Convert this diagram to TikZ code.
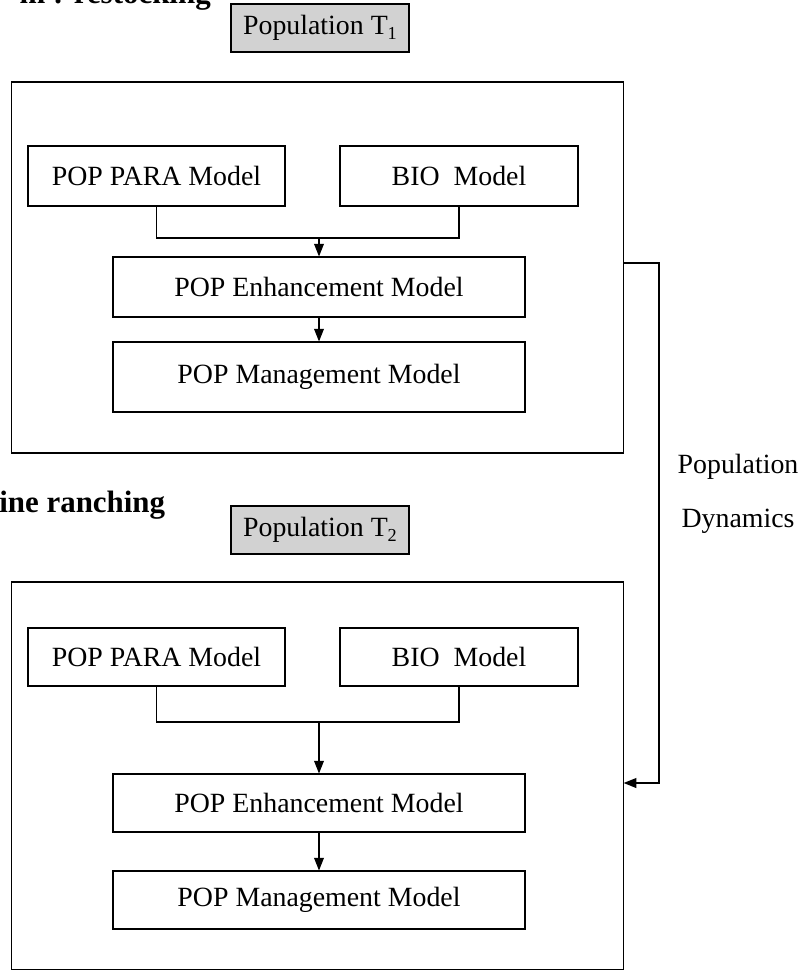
\documentclass[tikz,border=0pt]{standalone}
\usepackage{fontspec}
\setmainfont{Liberation Serif}
\usetikzlibrary{arrows.meta, calc}

\newcommand{\modelfont}{\fontsize{19.8}{24}\selectfont}
\newcommand{\headfont}{\fontsize{22}{26}\selectfont\bfseries}
\newcommand{\popsub}[1]{\raisebox{-0.35ex}{\fontsize{13}{15}\selectfont #1}}

\tikzset{
  modelbox/.style={draw, line width=0.8pt, inner sep=0pt, font=\modelfont},
  popbox/.style={draw, line width=0.8pt, fill=gray!35, inner sep=0pt,
    minimum width=4.45cm, minimum height=1.2cm, font=\modelfont},
  framebox/.style={draw, line width=0.8pt, inner sep=0pt, minimum width=15.275cm},
  heading/.style={inner sep=0pt, font=\headfont},
  flow/.style={line width=0.8pt},
  flowarrow/.style={line width=0.8pt, -{Triangle[length=9pt, width=7pt]}}
}

\begin{document}
\begin{tikzpicture}[x=0.025cm, y=-0.025cm]
\useasboundingbox (0,0) rectangle (804,971);

% Bloco superior
\node[heading, anchor=base east] (head1) at (211,4) {m : restocking};
\node[popbox] (pop1) at (320,28) {Population T\popsub{1}};
\node[framebox, minimum height=9.275cm] (frame1) at (317.5,267.5) {};
\node[modelbox, minimum width=6.425cm, minimum height=1.5cm] (para1) at (156.5,176) {POP PARA Model};
\node[modelbox, minimum width=5.95cm, minimum height=1.5cm] (bio1) at (459,176) {BIO\ \ Model};
\node[modelbox, minimum width=10.3cm, minimum height=1.5cm] (enh1) at (319,287) {POP Enhancement Model};
\node[modelbox, minimum width=10.3cm, minimum height=1.75cm] (mgmt1) at (319,377) {POP Management Model};
\coordinate (join1) at (319,238);
\draw[flow] (para1.south) |- (join1) -| (bio1.south);
\draw[flowarrow] (join1) -- (enh1.north);
\draw[flowarrow] (enh1.south) -- (mgmt1.north);

% Bloco inferior
\node[heading, anchor=west] (head2) at (-1,505) {ine ranching};
\node[popbox] (pop2) at (320,530) {Population T\popsub{2}};
\node[framebox, minimum height=9.675cm] (frame2) at (317.5,775.5) {};
\node[modelbox, minimum width=6.425cm, minimum height=1.45cm] (para2) at (156.5,657) {POP PARA Model};
\node[modelbox, minimum width=5.95cm, minimum height=1.45cm] (bio2) at (459,657) {BIO\ \ Model};
\node[modelbox, minimum width=10.3cm, minimum height=1.45cm] (enh2) at (319,803) {POP Enhancement Model};
\node[modelbox, minimum width=10.3cm, minimum height=1.45cm] (mgmt2) at (319,900) {POP Management Model};
\coordinate (join2) at (319,722);
\draw[flow] (para2.south) |- (join2) -| (bio2.south);
\draw[flowarrow] (join2) -- (enh2.north);
\draw[flowarrow] (enh2.south) -- (mgmt2.north);

% Dinamica populacional
\coordinate (dyn1) at (659,263);
\coordinate (dyn2) at (659,783);
\draw[flowarrow] (frame1.east |- dyn1) -- (dyn1) |- (frame2.east |- dyn2);
\node[font=\modelfont, align=center, inner sep=0pt] (dyn) at (738,494)
  {Population\\[14pt]Dynamics};
\end{tikzpicture}
\end{document}
